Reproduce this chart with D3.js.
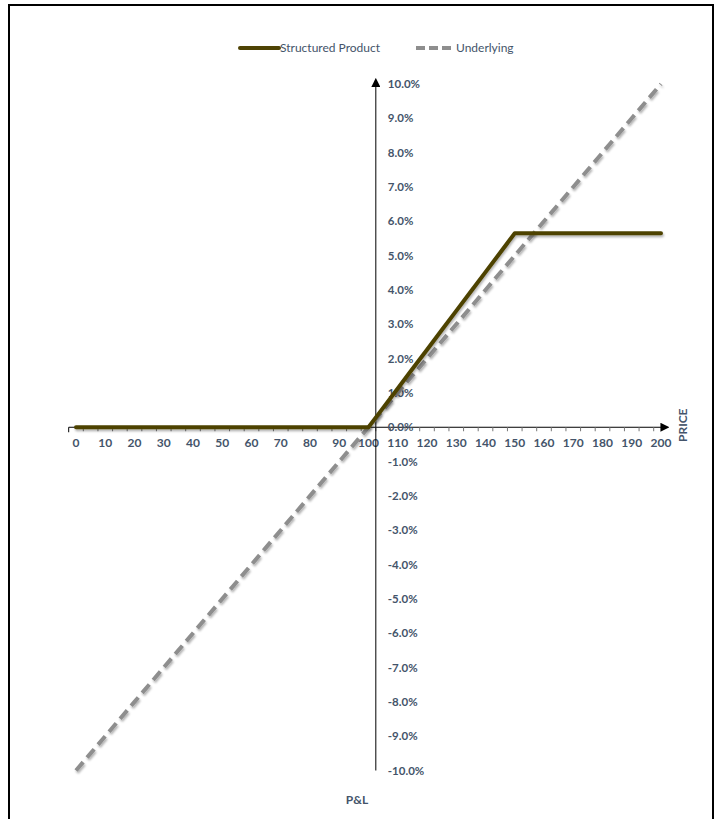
<!DOCTYPE html>
<html>
<head>
<meta charset="utf-8">
<script src="https://cdn.jsdelivr.net/npm/d3@7"></script>
<style>
  html, body { margin: 0; padding: 0; background: #fff; }
  svg { display: block; }
  text { font-family: Lato, "Open Sans", sans-serif; }
</style>
</head>
<body>
<div id="chart"></div>
<script>
// Price levels of the underlying (category axis, step 5)
const prices = [0, 5, 10, 15, 20, 25, 30, 35, 40, 45, 50, 55, 60, 65, 70, 75, 80, 85, 90, 95,
  100, 105, 110, 115, 120, 125, 130, 135, 140, 145, 150, 155, 160, 165, 170, 175, 180, 185, 190, 195, 200];

// P&L in percent
const structured = [0, 0, 0, 0, 0, 0, 0, 0, 0, 0, 0, 0, 0, 0, 0, 0, 0, 0, 0, 0,
  0, 0.565, 1.13, 1.695, 2.26, 2.825, 3.39, 3.955, 4.52, 5.085, 5.65, 5.65, 5.65, 5.65, 5.65,
  5.65, 5.65, 5.65, 5.65, 5.65, 5.65];
const underlying = [-10, -9.5, -9, -8.5, -8, -7.5, -7, -6.5, -6, -5.5, -5, -4.5, -4, -3.5, -3, -2.5,
  -2, -1.5, -1, -0.5, 0, 0.5, 1, 1.5, 2, 2.5, 3, 3.5, 4, 4.5, 5, 5.5, 6, 6.5, 7, 7.5, 8, 8.5, 9, 9.5, 10];

const xTickLabels = [0, 10, 20, 30, 40, 50, 60, 70, 80, 90, 100, 110, 120, 130, 140, 150, 160, 170, 180, 190, 200];
const yTickValues = [10, 9, 8, 7, 6, 5, 4, 3, 2, 1, 0, -1, -2, -3, -4, -5, -6, -7, -8, -9, -10];

const seriesNames = ["Structured Product", "Underlying"];
const colors = { structured: "#4e4304", underlying: "#8e8e8e", text: "#44546a", axis: "#000" };

const W = 717, H = 819;
const svg = d3.select("#chart").append("svg").attr("width", W).attr("height", H);

const defs = svg.append("defs");
const shadow = defs.append("filter").attr("id", "shadow")
  .attr("x", "-5%").attr("y", "-5%").attr("width", "110%").attr("height", "110%");
shadow.append("feDropShadow").attr("dx", 1).attr("dy", 2).attr("stdDeviation", 1.2)
  .attr("flood-color", "#000").attr("flood-opacity", 0.3);
defs.append("marker").attr("id", "arrow").attr("viewBox", "0 0 10 10")
  .attr("refX", 1).attr("refY", 5).attr("markerWidth", 9).attr("markerHeight", 9)
  .attr("markerUnits", "userSpaceOnUse").attr("orient", "auto")
  .append("path").attr("d", "M0,0 L10,5 L0,10 Z").attr("fill", "#000");

// Frame
svg.append("rect").attr("x", 9).attr("y", 5).attr("width", 704).attr("height", 830)
  .attr("fill", "none").attr("stroke", "#000").attr("stroke-width", 2);

// Scales
const x = d3.scaleLinear().domain([0, 200]).range([76, 661]);
const y = d3.scaleLinear().domain([-10, 10]).range([770.5, 84]);

const g = svg.append("g");

// Horizontal (price) axis with tick marks at category boundaries
const x0 = x(-2.5), x1 = x(202.5);
g.append("line").attr("x1", x0).attr("x2", x1 - 7).attr("y1", y(0)).attr("y2", y(0))
  .attr("stroke", colors.axis).attr("stroke-width", 1).attr("marker-end", "url(#arrow)");
const boundaries = prices.map(p => p - 2.5);
g.selectAll(".xtick").data(boundaries).join("line")
  .attr("x1", d => x(d)).attr("x2", d => x(d))
  .attr("y1", y(0)).attr("y2", d => d === -2.5 ? y(0) + 5 : y(0) + 4)
  .attr("stroke", d => d === -2.5 ? "#000" : "#777").attr("stroke-width", 1);

g.selectAll(".xlab").data(xTickLabels).join("text")
  .attr("x", d => x(d)).attr("y", y(0) + 20)
  .attr("text-anchor", "middle").attr("font-size", 12).attr("font-weight", "bold")
  .attr("fill", colors.text).text(d => d);

// Vertical (P&L) axis crossing between 100 and 105
const yAxisX = x(102.5);
g.append("line").attr("x1", yAxisX).attr("x2", yAxisX).attr("y1", y(-10)).attr("y2", y(10) + 2)
  .attr("stroke", colors.axis).attr("stroke-width", 1).attr("marker-end", "url(#arrow)");

g.selectAll(".ylab").data(yTickValues).join("text")
  .attr("x", yAxisX + 12).attr("y", d => y(d) + 4)
  .attr("font-size", 11.5).attr("font-weight", "bold")
  .attr("fill", colors.text).text(d => d.toFixed(1) + "%");

// Axis titles
g.append("text").attr("transform", `translate(${687},${y(0) - 2}) rotate(-90)`)
  .attr("text-anchor", "middle").attr("font-size", 12).attr("font-weight", "bold")
  .attr("fill", colors.text).text("PRICE");
g.append("text").attr("x", 357).attr("y", 804).attr("text-anchor", "middle")
  .attr("font-size", 12).attr("font-weight", "bold").attr("fill", colors.text).text("P&L");

// Series
const line = d3.line().x((d, i) => x(prices[i])).y(d => y(d));
g.append("path").datum(underlying).attr("d", line)
  .attr("fill", "none").attr("stroke", colors.underlying).attr("stroke-width", 4)
  .attr("stroke-dasharray", "11,6").attr("filter", "url(#shadow)");
g.append("path").datum(structured).attr("d", line)
  .attr("fill", "none").attr("stroke", colors.structured).attr("stroke-width", 4)
  .attr("stroke-linejoin", "round").attr("stroke-linecap", "round").attr("filter", "url(#shadow)");

// Legend
const legend = svg.append("g");
const legendItems = [
  { name: seriesNames[0], color: colors.structured, dash: null, x: 240 },
  { name: seriesNames[1], color: colors.underlying, dash: "9,4", x: 416 }
];
legendItems.forEach(it => {
  legend.append("line").attr("x1", it.x).attr("x2", it.x + 39).attr("y1", 48).attr("y2", 48)
    .attr("stroke", it.color).attr("stroke-width", 4)
    .attr("stroke-linecap", it.dash ? "butt" : "round")
    .attr("stroke-dasharray", it.dash);
  legend.append("text").attr("x", it.x + 40).attr("y", 52).attr("font-size", 12)
    .attr("fill", colors.text).text(it.name);
});
</script>
</body>
</html>
